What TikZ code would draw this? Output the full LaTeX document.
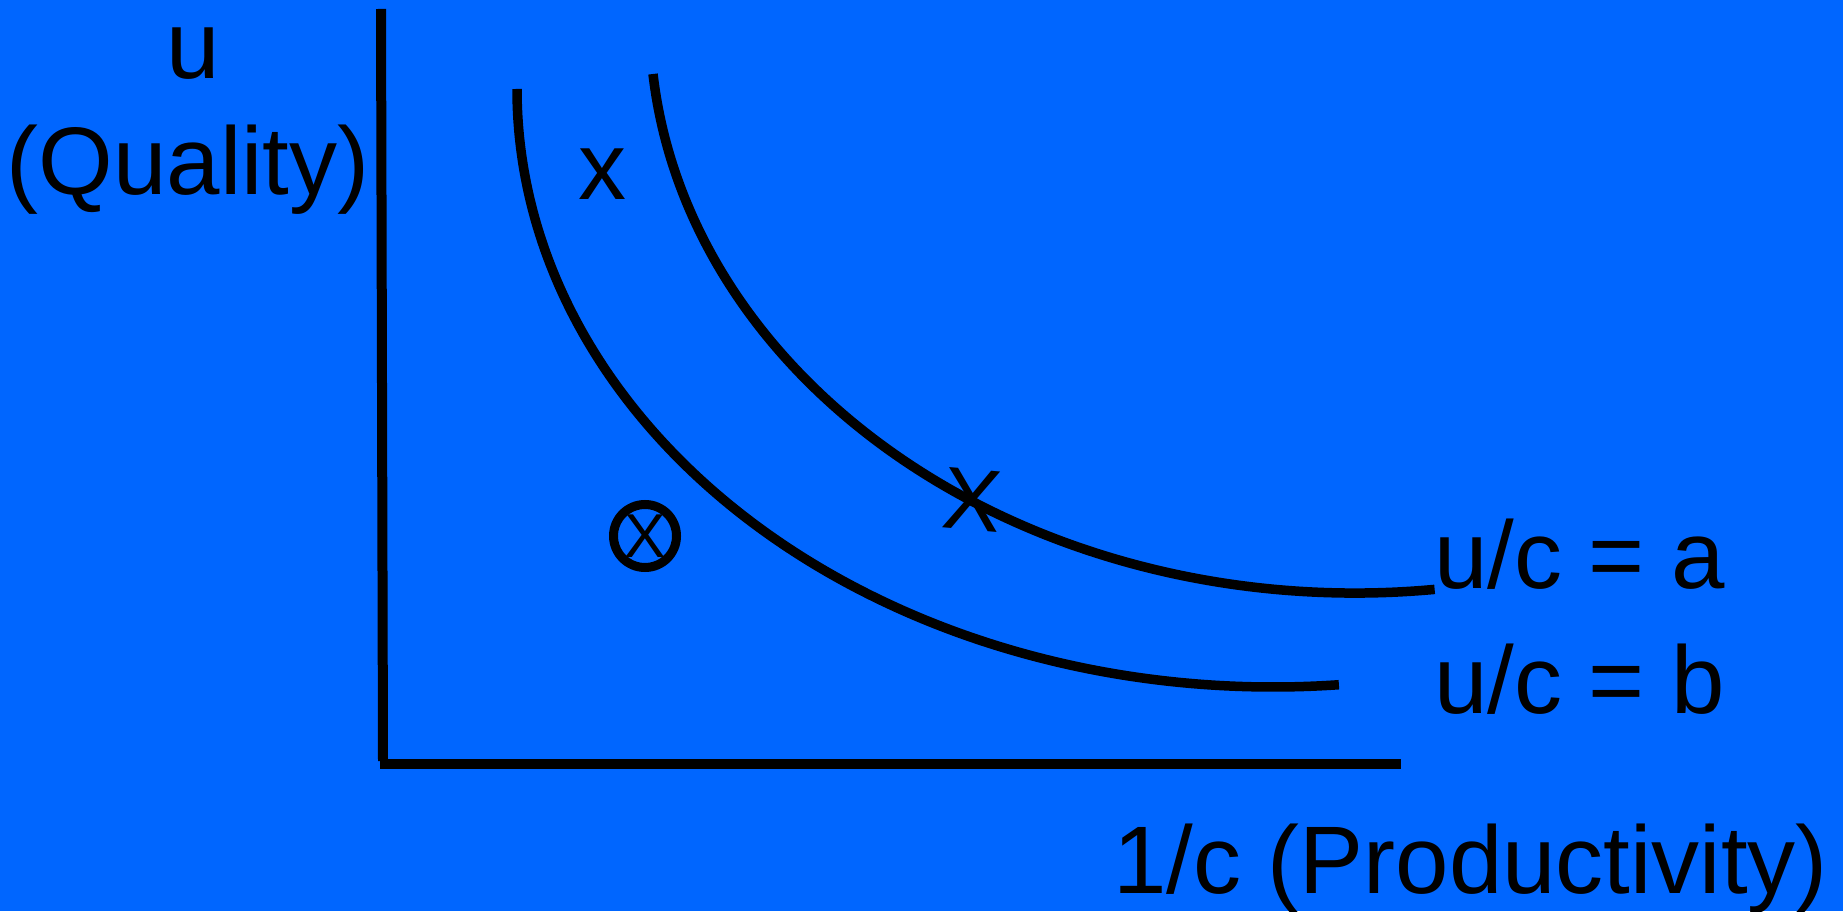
\documentclass[tikz,border=0pt]{standalone}
\usepackage{fontspec}
\setmainfont{Liberation Sans}
\usepackage{tikz}
\usetikzlibrary{positioning}
\definecolor{qpBack}{HTML}{0066FF}
\tikzset{
  qpaxis/.style={line width=10pt, black},
  qpcurve/.style={line width=9.5pt, black},
  qplabel/.style={font=\fontsize{96}{115}\selectfont, inner sep=0pt, outer sep=0pt, text=black},
  qpmark/.style={qplabel, font=\fontsize{88}{100}\selectfont},
  qpcircled/.style={circle, draw=black, line width=9pt, minimum size=63pt, inner sep=0pt,
    font=\fontsize{62}{66}\selectfont}
}
\begin{document}
\begin{tikzpicture}[x=1pt, y=1pt]
  \useasboundingbox (0,0) rectangle (1843,911);
  \fill[qpBack] (0,0) rectangle (1843,911);
  \draw[qpaxis] (381,902) -- (383,150);
  \draw[qpaxis] (380,147) -- (1401,147);
  \draw[qpcurve] (517,822) arc[start angle=180, end angle=275, x radius=756pt, y radius=598pt];
  \draw[qpcurve] (653,837) arc[start angle=185.4, end angle=276.5, x radius=705pt, y radius=573pt];
  \node[qplabel, anchor=base] (ulab) at (193,832) {u};
  \node[qplabel, anchor=base] (qlab) at (188,716) {(Quality)};
  \node[qplabel, anchor=base west] (plab) at (1113,18) {1/c (Productivity)};
  \node[qplabel, anchor=base west] (alab) at (1434,323) {u/c = a};
  \node[qplabel, anchor=base west] (blab) at (1434,198) {u/c = b};
  \node[qplabel, anchor=base] (xtop) at (602,711) {x};
  \node[qpmark, rotate=-5] (xmid) at (972,411) {X};
  \node[qpcircled] (xcirc) at (645,375) {X};
\end{tikzpicture}
\end{document}
